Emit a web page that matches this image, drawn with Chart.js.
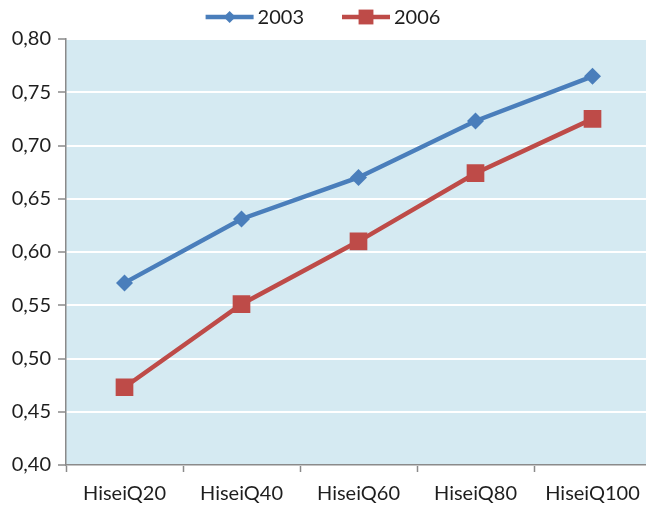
<!DOCTYPE html>
<html><head><meta charset="utf-8">
<script src="https://cdn.jsdelivr.net/npm/chart.js@4.4.1/dist/chart.umd.min.js"></script>
<style>html,body{margin:0;padding:0;overflow:hidden;background:#fff}canvas{display:block}</style>
</head><body>
<canvas id="c" width="651" height="507"></canvas>
<script>
const categories = ['HiseiQ20', 'HiseiQ40', 'HiseiQ60', 'HiseiQ80', 'HiseiQ100'];
const values2003 = [0.571, 0.631, 0.670, 0.723, 0.765];
const values2006 = [0.473, 0.551, 0.610, 0.674, 0.725];
const seriesNames = ['2003', '2006'];
const yMin = 0.40, yMax = 0.80, yStep = 0.05;

const FONT = 'Lato';
const TEXT = '#1e1e1e';
const AXIS = '#8a8a8a';

const bgPlugin = {
  id: 'plotBg',
  beforeDraw(chart) {
    const a = chart.chartArea, ctx = chart.ctx;
    ctx.save();
    ctx.fillStyle = '#d5eaf2';
    ctx.fillRect(a.left, a.top, a.right - a.left, a.bottom - a.top);
    ctx.restore();
  }
};

const legendPlugin = {
  id: 'lineLegend',
  afterDraw(chart) {
    const ctx = chart.ctx;
    ctx.save();
    ctx.font = '20px ' + FONT;
    const symW = 48, gapT = 4, gapI = 38, y = 17;
    const items = chart.data.datasets.map(ds => ({ ds, tw: ctx.measureText(ds.label).width }));
    const total = items.reduce((s, it) => s + symW + gapT + it.tw, 0) + gapI * (items.length - 1);
    let x = (646 - total) / 2;
    items.forEach(it => {
      const ds = it.ds;
      ctx.strokeStyle = ds.borderColor;
      ctx.lineWidth = 4.5;
      ctx.beginPath(); ctx.moveTo(x, y); ctx.lineTo(x + symW, y); ctx.stroke();
      ctx.fillStyle = ds.borderColor;
      Chart.helpers.drawPoint(ctx, { pointStyle: ds.pointStyle, radius: ds.legendRadius, borderWidth: 0, rotation: 0 }, x + symW / 2, y);
      ctx.fillStyle = TEXT;
      ctx.textBaseline = 'middle';
      ctx.textAlign = 'left';
      ctx.fillText(ds.label, x + symW + gapT, y + 1);
      x += symW + gapT + it.tw + gapI;
    });
    ctx.restore();
  }
};

new Chart(document.getElementById('c'), {
  type: 'line',
  data: {
    labels: categories,
    datasets: [
      { label: seriesNames[0], data: values2003, borderColor: '#4a7ebb', backgroundColor: '#4a7ebb',
        borderWidth: 4.5, pointStyle: 'rectRot', pointRadius: 8.5, pointHoverRadius: 8.5, pointBorderWidth: 0,
        legendRadius: 6, tension: 0 },
      { label: seriesNames[1], data: values2006, borderColor: '#be4b48', backgroundColor: '#be4b48',
        borderWidth: 4.5, pointStyle: 'rect', pointRadius: 12.5, pointHoverRadius: 12.5, pointBorderWidth: 0,
        legendRadius: 10.5, tension: 0 }
    ]
  },
  options: {
    responsive: false,
    animation: false,
    devicePixelRatio: 1,
    layout: { autoPadding: false, padding: { top: 39, left: 0, right: 0, bottom: 0 } },
    plugins: { legend: { display: false }, tooltip: { enabled: false } },
    scales: {
      x: {
        offset: true,
        grid: { offset: true, drawOnChartArea: false, tickLength: 7, tickColor: AXIS, tickWidth: 1.5 },
        border: { color: AXIS, width: 1.5 },
        ticks: { color: TEXT, font: { family: FONT, size: 20 }, padding: 10, maxRotation: 0, autoSkip: false },
        afterFit(s) { s.height = 42; s.paddingLeft = 0; s.paddingRight = 0; }
      },
      y: {
        min: yMin, max: yMax,
        grid: { color: '#ffffff', lineWidth: 2, tickLength: 8, tickColor: AXIS, tickWidth: 1.5 },
        border: { color: AXIS, width: 1.5 },
        ticks: { stepSize: yStep, color: TEXT, font: { family: FONT, size: 20 }, padding: 7,
          callback: v => Number(v).toFixed(2).replace('.', ',') },
        afterFit(s) { s.width = 66; s.paddingTop = 0; s.paddingBottom = 0; }
      }
    }
  },
  plugins: [bgPlugin, legendPlugin]
});
</script>
</body></html>
